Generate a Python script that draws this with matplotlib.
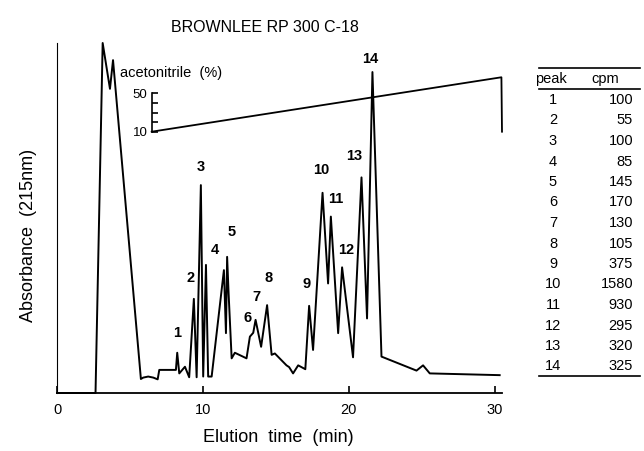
import numpy as np
import matplotlib.pyplot as plt
from matplotlib.lines import Line2D

plt.rcParams['font.family'] = ['Liberation Sans', 'DejaVu Sans']

# chromatogram trace: elution time (min) and absorbance (% of full scale)
time = [0, 2.64, 3.13, 3.63, 3.84, 5.75, 5.91, 6.25, 6.60, 6.90,
        7.01, 8.15, 8.24, 8.38, 8.77, 9.06, 9.38, 9.57, 9.86, 10.02,
        10.21, 10.36, 10.60, 11.44, 11.58, 11.66, 11.76, 11.97, 12.19, 12.99,
        13.22, 13.45, 13.61, 13.99, 14.40, 14.71, 14.93, 15.73, 15.91, 16.18,
        16.53, 17.02, 17.28, 17.55, 18.20, 18.58, 18.77, 19.27, 19.54, 20.29,
        20.87, 21.25, 21.62, 22.24, 24.64, 25.09, 25.55, 30.34]
absorb = [0, 0, 100, 86.9, 95.1, 4.0, 4.4, 4.7, 4.4, 3.9,
          6.6, 6.6, 11.5, 5.6, 7.5, 4.5, 26.9, 4.5, 59.4, 4.7,
          36.6, 4.7, 4.7, 35.1, 17.1, 38.9, 28.6, 9.9, 11.5, 9.9,
          16.1, 17.2, 20.9, 13.2, 25.1, 10.9, 11.3, 7.9, 7.4, 5.6,
          7.9, 6.8, 24.9, 12.3, 57.2, 31.3, 50.4, 17.1, 35.9, 10.2,
          61.6, 21.3, 91.7, 10.4, 6.4, 7.9, 5.6, 5.1]

# acetonitrile gradient
grad_time = [6.49, 30.46, 30.5]
grad_pct = [10, 66.7, 10]

# numbered peaks (time of apex) and table of radioactivity
peak_time = [8.24, 9.38, 9.86, 11.44, 11.66, 13.45, 13.61, 14.40,
             17.28, 18.20, 18.77, 19.54, 20.87, 21.62]
peak_num = [str(i) for i in range(1, 15)]
cpm = [100, 55, 100, 85, 145, 170, 130, 105, 375, 1580, 930, 295, 320, 325]

# label offsets from the apex, in pixels
lab_off = [(0, 20), (-3, 21), (0, 18), (-9, 20), (5, 25), (-6, 15), (1, 23),
           (1, 27), (-3, 22), (-1, 23), (5, 18), (4, 17), (-7, 21), (-2, 13)]

W, H = 644, 451
fig = plt.figure(figsize=(W / 100, H / 100), dpi=100)
ax = fig.add_axes([57 / W, 1 - 393 / H, 445 / W, 350 / H])

ax.plot(time, absorb, color='black', lw=1.4, clip_on=False)
ax.set_xlim(0, 30.5)
ax.set_ylim(0, 100)
for s in ['top', 'right']:
    ax.spines[s].set_visible(False)
ax.spines['bottom'].set_linewidth(1.3)
ax.spines['left'].set_linewidth(0.8)
ax.set_yticks([])
ax.set_xticks([0, 10, 20, 30])
ax.tick_params(axis='x', direction='in', length=5, width=1.2, labelsize=10.5, pad=7)

for n, t, (dx, dy) in zip(peak_num, peak_time, lab_off):
    a = absorb[time.index(t)]
    ax.annotate(n, (t, a), xytext=(dx, dy), textcoords='offset pixels',
                ha='center', va='center', fontsize=10.5, fontweight='bold',
                annotation_clip=False)

ax.set_xlabel('Elution  time  (min)', fontsize=13, va='center')
ax.xaxis.set_label_coords(0.497, -0.126)
ax.set_ylabel('Absorbance  (215nm)', fontsize=13, va='center')
ax.yaxis.set_label_coords(-0.065, 0.45)

# gradient on its own scale
ax2 = ax.twinx()
ax2.plot(grad_time, grad_pct, color='black', lw=1.3, clip_on=False)
ax2.set_ylim(-262.2, 102.4)
for s in ['top', 'right', 'bottom']:
    ax2.spines[s].set_visible(False)
ax2.spines['left'].set_position(('data', grad_time[0]))
ax2.spines['left'].set_bounds(10, 50)
ax2.spines['left'].set_linewidth(1.2)
ax2.yaxis.set_ticks_position('left')
ax2.set_yticks([10, 20, 30, 40, 50])
ax2.set_yticklabels(['10', '', '', '', '50'])
ax2.tick_params(axis='y', direction='in', length=4, width=1.2, labelsize=9.5, pad=3)
fig.text(120 / W, 1 - 73 / H, 'acetonitrile  (%)', fontsize=10.5, va='center')

fig.text(265 / W, 1 - 27 / H, 'BROWNLEE RP 300 C-18', fontsize=11.5, ha='center', va='center')

# table of peaks
for y in [67.7, 89, 376]:
    fig.add_artist(Line2D([539 / W, 640 / W], [1 - y / H, 1 - y / H], color='black', lw=1.2))
fig.text(551 / W, 1 - 79 / H, 'peak', fontsize=10.5, ha='center', va='center')
fig.text(605 / W, 1 - 79 / H, 'cpm', fontsize=10.5, ha='center', va='center')
for i, (n, c) in enumerate(zip(peak_num, cpm)):
    y = 1 - (100 + i * 20.5) / H
    fig.text(553 / W, y, n, fontsize=10.5, ha='center', va='center')
    fig.text(633 / W, y, str(c), fontsize=10.5, ha='right', va='center')

fig.savefig('out.png', dpi=100)
